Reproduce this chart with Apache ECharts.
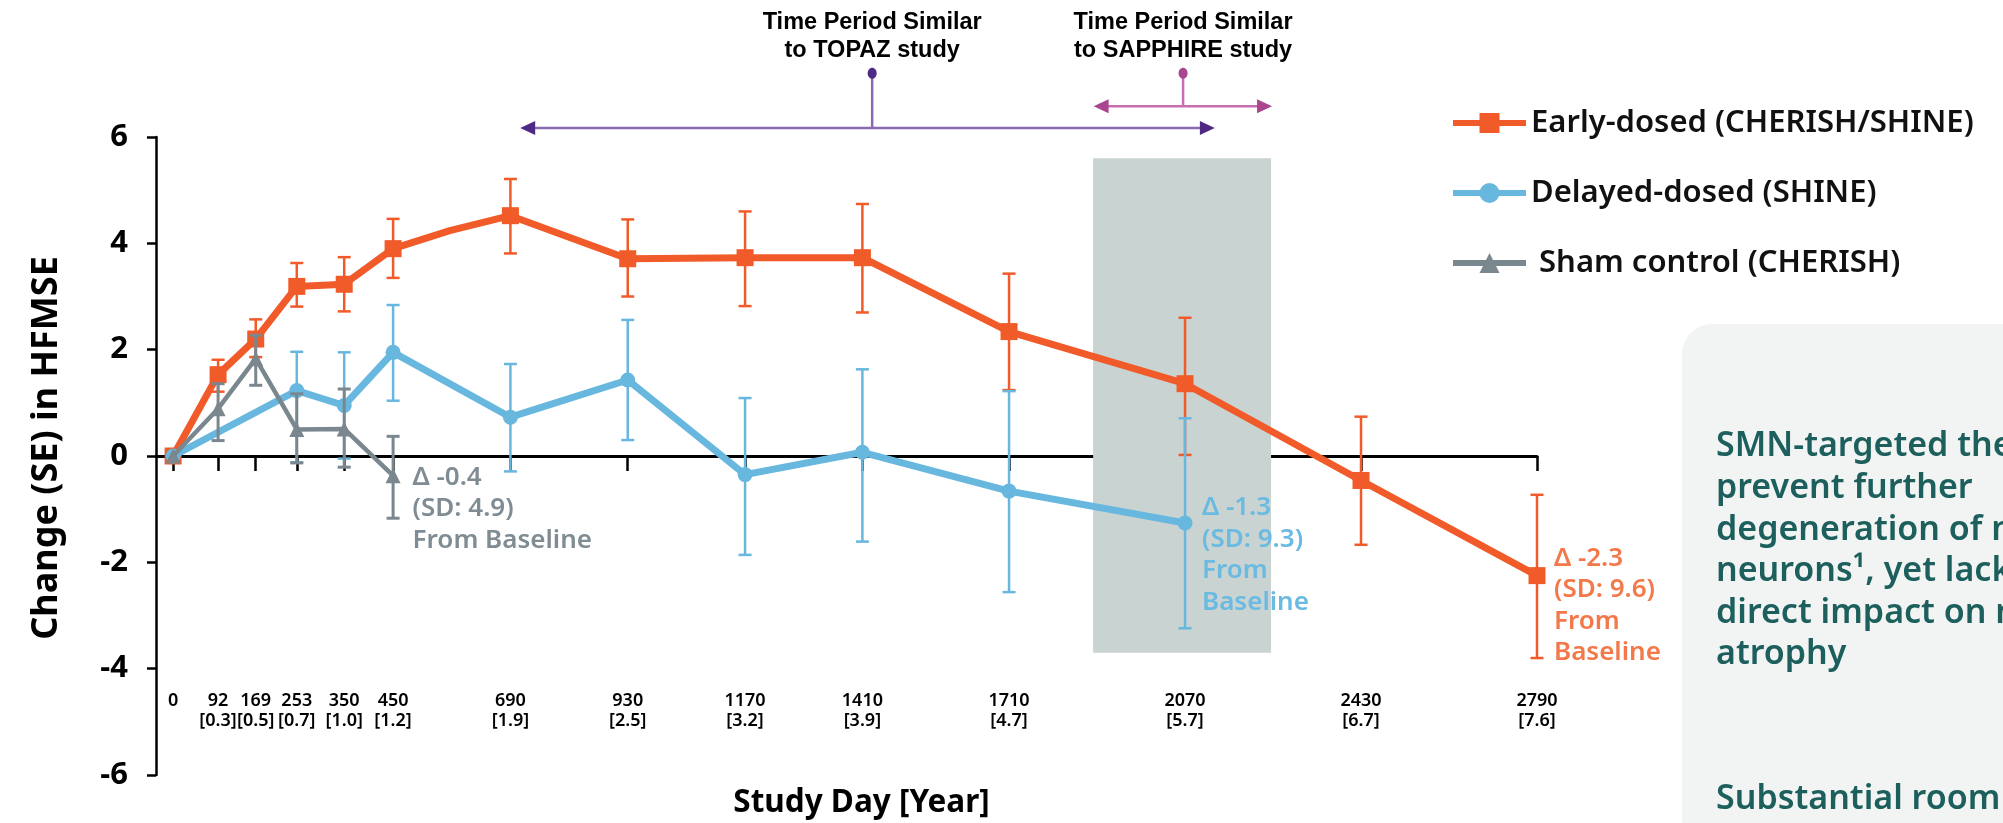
<!DOCTYPE html>
<html>
<head>
<meta charset="utf-8">
<script src="https://cdn.jsdelivr.net/npm/echarts@6/dist/echarts.min.js"></script>
<style>
html,body{margin:0;padding:0;background:#ffffff;}
#chart{width:2003px;height:823px;}
</style>
</head>
<body>
<div id="chart"></div>
<script>
// ---------------- data ----------------
const tickDays  = [0, 92, 169, 253, 350, 450, 690, 930, 1170, 1410, 1710, 2070, 2430, 2790];
const tickYears = ['', '0.3', '0.5', '0.7', '1.0', '1.2', '1.9', '2.5', '3.2', '3.9', '4.7', '5.7', '6.7', '7.6'];

const seriesNames = ['Early-dosed (CHERISH/SHINE)', 'Delayed-dosed (SHINE)', ' Sham control (CHERISH)'];

const earlyDays   = [0, 92, 169, 253, 350, 450, 566, 690, 930, 1170, 1410, 1710, 2070, 2430, 2790];
const earlyMean   = [0, 1.53, 2.20, 3.19, 3.23, 3.90, 4.24, 4.52, 3.71, 3.73, 3.73, 2.34, 1.36, -0.46, -2.25];
const earlyLow    = [null, 1.21, 1.86, 2.81, 2.72, 3.35, null, 3.81, 3.00, 2.82, 2.70, 1.24, 0.02, -1.67, -3.80];
const earlyHigh   = [null, 1.81, 2.57, 3.63, 3.74, 4.46, null, 5.21, 4.45, 4.60, 4.74, 3.43, 2.60, 0.74, -0.73];
const earlyMarker = [true, true, true, true, true, true, false, true, true, true, true, true, true, true, true];

const delayedDays = [0, 253, 350, 450, 690, 930, 1170, 1410, 1710, 2070];
const delayedMean = [0, 1.23, 0.95, 1.95, 0.73, 1.43, -0.35, 0.07, -0.66, -1.26];
const delayedLow  = [null, -0.12, -0.05, 1.04, -0.29, 0.30, -1.86, -1.61, -2.56, -3.24];
const delayedHigh = [null, 1.96, 1.95, 2.84, 1.73, 2.56, 1.09, 1.63, 1.22, 0.71];

const shamDays = [0, 92, 169, 253, 350, 450];
const shamMean = [0, 0.89, 1.83, 0.50, 0.51, -0.37];
const shamLow  = [null, 0.29, 1.33, -0.13, -0.21, -1.17];
const shamHigh = [null, 1.36, 2.27, 1.17, 1.26, 0.37];

const endNotes = [
  '\u0394 -2.3\n(SD: 9.6)\nFrom\nBaseline',
  '\u0394 -1.3\n(SD: 9.3)\nFrom\nBaseline',
  '\u0394 -0.4\n(SD: 4.9)\nFrom Baseline'
];

// study-period annotations (in data units: day / HFMSE change)
const periodLabels  = ['Time Period Similar\nto TOPAZ study', 'Time Period Similar\nto SAPPHIRE study'];
const periodStart   = [710, 1883];
const periodEnd     = [2131, 2248];
const periodArrowY  = [6.17, 6.58];
const periodDotDay  = [1430, 2066];
const periodDotY    = [7.20, 7.20];
const periodTextY   = [7.89, 7.89];

// shaded window (SAPPHIRE period)
const shadeDays = [1882, 2246];
const shadeY    = [5.60, -3.70];

const panelText = 'SMN-targeted therapies\nprevent further\ndegeneration of motor\nneurons\u00B9, yet lack a\ndirect impact on muscle\natrophy';
const panelText2 = 'Substantial room for improvement';

// ---------------- styles ----------------
const C_EARLY = '#F15A29', C_DELAY = '#67B7DF', C_SHAM = '#7A878F';
const T_EARLY = '#F3794B', T_DELAY = '#6BBAE2', T_SHAM = '#808C93';
const PERIOD_LINE = ['#8A6AB1', '#C66FB0'];
const PERIOD_HEAD = ['#4E2A84', '#A9468F'];
const FONT = '"Noto Sans", "Open Sans", sans-serif';

function buildLine(days, mean, markers, note, noteColor, noteOpt) {
  return days.map(function (d, i) {
    const item = { value: [d, mean[i]] };
    if (markers && !markers[i]) item.symbol = 'none';
    if (i === days.length - 1) {
      item.label = {
        show: true, position: 'right', distance: noteOpt.dist, offset: [0, noteOpt.dy],
        formatter: note, color: noteColor, fontSize: 26, fontWeight: 600, fontFamily: FONT,
        lineHeight: 31.5, align: 'left', verticalAlign: 'middle'
      };
    }
    return item;
  });
}
function buildErr(days, low, high) {
  const out = [];
  days.forEach(function (d, i) { if (low[i] != null) out.push([d, low[i], high[i]]); });
  return out;
}
function errRender(color, capW, lw) {
  return function (params, api) {
    const x = api.value(0);
    const pLo = api.coord([x, api.value(1)]);
    const pHi = api.coord([x, api.value(2)]);
    const s = { stroke: color, lineWidth: lw };
    return {
      type: 'group', children: [
        { type: 'line', shape: { x1: pLo[0], y1: pLo[1], x2: pHi[0], y2: pHi[1] }, style: s },
        { type: 'line', shape: { x1: pLo[0] - capW / 2, y1: pLo[1], x2: pLo[0] + capW / 2, y2: pLo[1] }, style: s },
        { type: 'line', shape: { x1: pHi[0] - capW / 2, y1: pHi[1], x2: pHi[0] + capW / 2, y2: pHi[1] }, style: s }
      ]
    };
  };
}

const periodData = periodLabels.map(function (t, i) {
  return [periodStart[i], periodEnd[i], periodArrowY[i], periodDotDay[i], periodDotY[i], periodTextY[i]];
});

const chart = echarts.init(document.getElementById('chart'), null, { renderer: 'canvas' });

const option = {
  animation: false,
  backgroundColor: '#ffffff',
  grid: { left: 156, right: 466, top: 137, bottom: 48, containLabel: false, outerBoundsMode: 'none' },
  legend: {
    orient: 'vertical', left: 1450, top: 107, padding: 0,
    itemWidth: 73, itemHeight: 25, itemGap: 38,
    data: seriesNames,
    lineStyle: { width: 6 },
    textStyle: { fontSize: 31, fontWeight: 600, color: '#111111', fontFamily: FONT, lineHeight: 32 }
  },
  xAxis: [
    {
      type: 'value', min: -35, max: 2790, position: 'bottom',
      axisLine: { show: false, onZero: false },
      axisTick: { show: false },
      splitLine: { show: false },
      axisLabel: {
        customValues: tickDays, margin: -84, fontSize: 18, lineHeight: 20, fontWeight: 600,
        fontFamily: FONT, color: '#000000',
        formatter: function (v) {
          const i = tickDays.indexOf(v);
          if (i < 0) return '';
          return tickYears[i] ? tickDays[i] + '\n[' + tickYears[i] + ']' : String(tickDays[i]);
        }
      },
      name: 'Study Day [Year]', nameLocation: 'middle', nameGap: 12,
      nameTextStyle: { fontSize: 31.5, fontWeight: 'bold', color: '#000000', fontFamily: FONT, padding: [0, 0, 0, 30] }
    },
    {
      type: 'value', min: -35, max: 2790, position: 'top',
      axisLine: { show: true, onZero: true, lineStyle: { color: '#000000', width: 3 } },
      axisTick: { show: true, inside: true, length: 15, customValues: tickDays, lineStyle: { color: '#000000', width: 2.5 } },
      axisLabel: { show: false },
      splitLine: { show: false }
    }
  ],
  yAxis: {
    type: 'value', min: -6, max: 6, interval: 2,
    axisLine: { show: true, onZero: false, lineStyle: { color: '#000000', width: 2.5 } },
    axisTick: { show: true, length: 9, lineStyle: { color: '#000000', width: 2.5 } },
    axisLabel: { fontSize: 31, fontWeight: 'bold', color: '#000000', margin: 28, fontFamily: FONT },
    splitLine: { show: false },
    name: 'Change (SE) in HFMSE', nameLocation: 'middle', nameRotate: 90, nameGap: 91,
    nameTextStyle: { fontSize: 36, fontWeight: 'bold', color: '#000000', fontFamily: FONT, padding: [0, 0, 0, 16] }
  },
  series: [
    {
      type: 'custom', clip: false, silent: true, z: 1,
      data: [[shadeDays[0], shadeDays[1], shadeY[0], shadeY[1]]],
      encode: { x: [0, 1], y: [2, 3] },
      renderItem: function (params, api) {
        const a = api.coord([api.value(0), api.value(2)]);
        const b = api.coord([api.value(1), api.value(3)]);
        return { type: 'rect', shape: { x: a[0], y: a[1], width: b[0] - a[0], height: b[1] - a[1] }, style: { fill: '#C9D3D2' } };
      }
    },
    {
      type: 'custom', silent: true, z: 2,
      data: buildErr(earlyDays, earlyLow, earlyHigh),
      encode: { x: 0, y: [1, 2] },
      renderItem: errRender(C_EARLY, 13, 2.5)
    },
    {
      name: seriesNames[0], type: 'line', z: 3,
      data: buildLine(earlyDays, earlyMean, earlyMarker, endNotes[0], T_EARLY, { dist: 8.5, dy: 30 }),
      symbol: 'rect', symbolSize: 17, showAllSymbol: true,
      lineStyle: { color: C_EARLY, width: 7 },
      itemStyle: { color: C_EARLY },
      label: { show: false }
    },
    {
      type: 'custom', silent: true, z: 4,
      data: buildErr(delayedDays, delayedLow, delayedHigh),
      encode: { x: 0, y: [1, 2] },
      renderItem: errRender(C_DELAY, 13, 2.5)
    },
    {
      name: seriesNames[1], type: 'line', z: 5,
      data: buildLine(delayedDays, delayedMean, null, endNotes[1], T_DELAY, { dist: 9.5, dy: 32 }),
      symbol: 'circle', symbolSize: 15, showAllSymbol: true,
      lineStyle: { color: C_DELAY, width: 7 },
      itemStyle: { color: C_DELAY },
      label: { show: false }
    },
    {
      type: 'custom', silent: true, z: 6,
      data: buildErr(shamDays, shamLow, shamHigh),
      encode: { x: 0, y: [1, 2] },
      renderItem: errRender(C_SHAM, 13, 3)
    },
    {
      name: seriesNames[2], type: 'line', z: 7,
      data: buildLine(shamDays, shamMean, null, endNotes[2], T_SHAM, { dist: 12, dy: 33 }),
      symbol: 'triangle', symbolSize: 15, showAllSymbol: true,
      lineStyle: { color: C_SHAM, width: 4.5 },
      itemStyle: { color: C_SHAM },
      label: { show: false }
    },
    {
      type: 'custom', clip: false, silent: true, z: 8,
      data: periodData,
      encode: { x: [0, 1, 3], y: [2, 4, 5] },
      renderItem: function (params, api) {
        const i = params.dataIndex;
        const a = api.coord([api.value(0), api.value(2)]);
        const b = api.coord([api.value(1), api.value(2)]);
        const d = api.coord([api.value(3), api.value(4)]);
        const t = api.coord([api.value(3), api.value(5)]);
        const lc = PERIOD_LINE[i], hc = PERIOD_HEAD[i];
        return {
          type: 'group', children: [
            { type: 'line', shape: { x1: a[0] + 8, y1: a[1], x2: b[0] - 8, y2: b[1] }, style: { stroke: lc, lineWidth: 2.5 } },
            { type: 'line', shape: { x1: d[0], y1: d[1], x2: d[0], y2: a[1] }, style: { stroke: lc, lineWidth: 2.5 } },
            { type: 'polygon', shape: { points: [[a[0], a[1]], [a[0] + 15, a[1] - 7], [a[0] + 15, a[1] + 7]] }, style: { fill: hc } },
            { type: 'polygon', shape: { points: [[b[0], b[1]], [b[0] - 15, b[1] - 7], [b[0] - 15, b[1] + 7]] }, style: { fill: hc } },
            { type: 'ellipse', shape: { cx: d[0], cy: d[1], rx: 4.5, ry: 5.5 }, style: { fill: hc } },
            {
              type: 'text', x: t[0], y: t[1],
              style: {
                text: periodLabels[i], font: 'bold 23.5px "Liberation Sans", Arial, sans-serif',
                fill: '#000000', align: 'center', verticalAlign: 'middle', lineHeight: 28
              }
            }
          ]
        };
      }
    }
  ],
  graphic: [
    { type: 'rect', z: -10, silent: true, shape: { x: 1682, y: 324, width: 420, height: 560, r: 30 }, style: { fill: '#F2F4F3' } },
    { type: 'text', silent: true, x: 1716, y: 426, style: { text: panelText, font: '600 34px "Noto Sans", sans-serif', fill: '#1C5F5C', lineHeight: 41.6 } },
    { type: 'text', silent: true, x: 1716, y: 779, style: { text: panelText2, font: '600 34px "Noto Sans", sans-serif', fill: '#1C5F5C', lineHeight: 41.6 } }
  ]
};

chart.setOption(option);
</script>
</body>
</html>
